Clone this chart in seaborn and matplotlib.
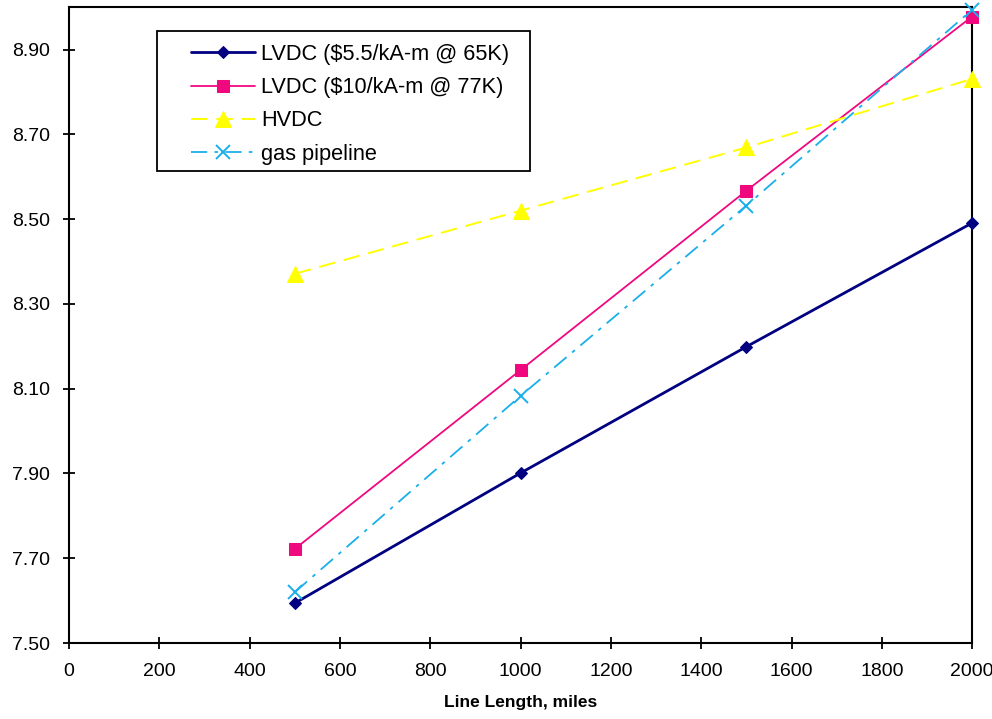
import matplotlib
matplotlib.use("Agg")
import matplotlib.pyplot as plt
from matplotlib.legend_handler import HandlerLine2D
from matplotlib.patches import Rectangle
import seaborn as sns
import pandas as pd

# Line length (miles) and cost per series
lengths = [500, 1000, 1500, 2000]
lvdc_65k = [7.594, 7.901, 8.199, 8.491]
lvdc_77k = [7.722, 8.144, 8.567, 8.978]
hvdc = [8.371, 8.520, 8.669, 8.831]
gas_pipeline = [7.620, 8.083, 8.532, 8.994]

series_names = ["LVDC ($5.5/kA-m @ 65K)", "LVDC ($10/kA-m @ 77K)", "HVDC", "gas pipeline"]
x_ticks = [0, 200, 400, 600, 800, 1000, 1200, 1400, 1600, 1800, 2000]
y_ticks = [7.50, 7.70, 7.90, 8.10, 8.30, 8.50, 8.70, 8.90]

sns.set_theme(style="white")
plt.rcParams["font.family"] = ["Liberation Sans", "DejaVu Sans"]


class PaddedLineHandler(HandlerLine2D):
    """Legend handle with blank space to the left of the sample line."""

    def __init__(self, pad_px, **kw):
        super().__init__(**kw)
        self.pad_px = pad_px

    def create_artists(self, legend, orig_handle, xdescent, ydescent, width, height,
                       fontsize, trans):
        return super().create_artists(legend, orig_handle, xdescent - self.pad_px, ydescent,
                                      width - self.pad_px, height, fontsize, trans)


fig = plt.figure(figsize=(9.92, 7.19), dpi=100)
ax = fig.add_axes([0.0696, 0.1057, 0.9104, 0.8843])

styles = [
    dict(color="#000080", marker="D", markersize=6, linestyle="-", linewidth=2.0),
    dict(color="#F0087F", marker="s", markersize=8, linestyle="-", linewidth=1.3),
    dict(color="#FFFF00", marker="^", markersize=11, linestyle=(0, (8.5, 4.5)), linewidth=1.4),
    dict(color="#1AAFEA", marker="x", markersize=10, linestyle=(0, (9, 4, 2, 4)), linewidth=1.3,
         markeredgewidth=1.4),
]

for name, vals, st in zip(series_names, [lvdc_65k, lvdc_77k, hvdc, gas_pipeline], styles):
    df = pd.DataFrame({"length": lengths, "cost": vals})
    st = dict(st)
    color = st.pop("color")
    sns.lineplot(data=df, x="length", y="cost", ax=ax, color=color, label=name,
                 markeredgecolor=color, markerfacecolor=color, clip_on=False, zorder=3, **st)

ax.set_xlim(0, 2000)
ax.set_ylim(7.5, 9.0)
ax.set_xticks(x_ticks)
ax.set_yticks(y_ticks)
ax.set_xticklabels([str(t) for t in x_ticks])
ax.set_yticklabels([f"{t:.2f}" for t in y_ticks])
ax.tick_params(axis="both", direction="inout", length=9, width=1.3, labelsize=14,
               colors="black")
ax.tick_params(axis="x", bottom=True, pad=10)
ax.tick_params(axis="y", left=True, pad=9)

for sp in ax.spines.values():
    sp.set_color("black")
    sp.set_linewidth(1.5)
    sp.set_visible(True)

ax.set_xlabel("Line Length, miles", fontsize=12.5, fontweight="bold", labelpad=11, color="black")
ax.set_ylabel("")
ax.grid(False)

# Legend box outline
ax.add_patch(Rectangle((0.0975, 0.742), 0.413, 0.2203, transform=ax.transAxes,
                       facecolor="white", edgecolor="black", linewidth=1.3, zorder=4))

handles, labels = ax.get_legend_handles_labels()
pad_px = 15
leg = ax.legend(handles, labels, loc="upper left", bbox_to_anchor=(0.0975, 0.962),
                fontsize=15.7, frameon=False, handlelength=3.9, handletextpad=0.3,
                labelspacing=0.56, borderpad=0.58, borderaxespad=0,
                handler_map={h: PaddedLineHandler(pad_px) for h in handles})
leg.set_zorder(5)
for t in leg.get_texts():
    t.set_color("black")

fig.savefig("out.png", dpi=100)
